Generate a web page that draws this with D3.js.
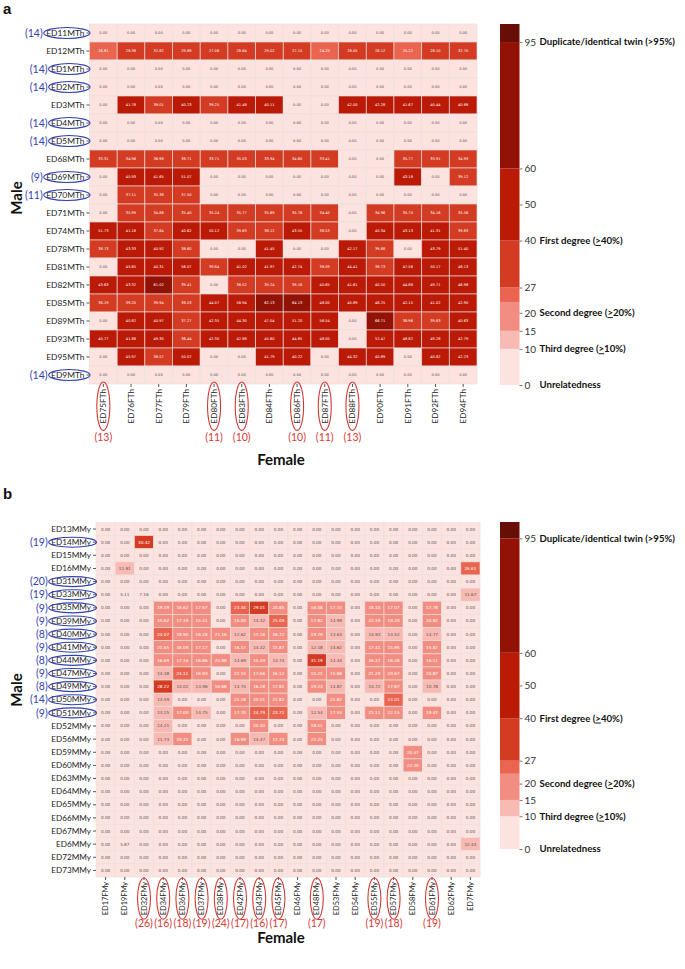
<!DOCTYPE html>
<html><head><meta charset="utf-8">
<script src="https://cdn.jsdelivr.net/npm/d3@7/dist/d3.min.js"></script>
<style>body{margin:0;background:#fff}</style>
</head><body>
<svg id="c" width="685" height="969" xmlns="http://www.w3.org/2000/svg"></svg>
<script>
// ---------- DATA: panel a ----------
const aRows = ["ED11MTh","ED12MTh","ED1MTh","ED2MTh","ED3MTh","ED4MTh","ED5MTh","ED68MTh","ED69MTh","ED70MTh","ED71MTh","ED74MTh","ED78MTh","ED81MTh","ED82MTh","ED85MTh","ED89MTh","ED93MTh","ED95MTh","ED9MTh"];
const aCols = ["ED75FTh","ED76FTh","ED77FTh","ED79FTh","ED80FTh","ED83FTh","ED84FTh","ED86FTh","ED87FTh","ED88FTh","ED90FTh","ED91FTh","ED92FTh","ED94FTh"];
const aValues = [
[0,0,0,0,0,0,0,0,0,0,0,0,0,0],
[26.81,28.38,32.82,29.89,27.06,28.64,29.02,27.15,24.20,28.05,28.12,25.22,28.10,32.70],
[0,0,0,0,0,0,0,0,0,0,0,0,0,0],
[0,0,0,0,0,0,0,0,0,0,0,0,0,0],
[0,41.78,39.01,40.23,39.25,41.48,40.11,0,0,42.00,42.28,41.67,40.44,40.88],
[0,0,0,0,0,0,0,0,0,0,0,0,0,0],
[0,0,0,0,0,0,0,0,0,0,0,0,0,0],
[33.31,34.96,36.98,38.71,33.71,35.03,33.94,34.60,33.41,0,0,35.77,33.91,34.93],
[0,45.93,41.65,51.07,0,0,0,0,0,0,0,43.18,0,39.12],
[0,37.11,35.38,37.50,0,0,0,0,0,0,0,0,0,0],
[0,35.99,34.86,35.40,35.24,35.77,35.69,35.76,34.40,0,34.96,35.70,34.16,35.56],
[51.73,41.18,37.64,40.62,50.12,39.63,38.12,43.55,38.53,0,40.34,43.13,41.31,39.83],
[38.73,43.33,40.92,38.60,0,0,41.45,0,0,42.17,39.88,0,43.79,51.40],
[0,45.65,40.31,56.07,39.84,41.02,41.97,42.74,38.09,44.41,38.73,47.56,50.17,48.13],
[43.63,43.32,61.02,39.41,0,38.52,39.24,39.16,40.65,41.61,40.50,44.88,49.71,46.98],
[38.19,39.20,39.94,38.53,44.07,58.94,62.13,64.13,48.00,40.89,46.25,42.15,41.02,42.90],
[0,40.82,40.97,37.27,42.35,44.30,47.04,51.20,56.54,0,66.71,38.96,39.83,40.63],
[40.77,41.88,49.30,36.44,42.30,42.88,45.60,44.85,48.00,0,52.47,48.82,49.28,42.79],
[0,45.97,38.57,50.07,0,0,41.79,40.22,0,44.32,40.89,0,40.82,42.23],
[0,0,0,0,0,0,0,0,0,0,0,0,0,0]
];
const aRowNoteLabels = ["ED11MTh","ED1MTh","ED2MTh","ED4MTh","ED5MTh","ED69MTh","ED70MTh","ED9MTh"];
const aRowNoteCounts = [14,14,14,14,14,9,11,14];
const aColNoteLabels = ["ED75FTh","ED80FTh","ED83FTh","ED86FTh","ED87FTh","ED88FTh"];
const aColNoteCounts = [13,11,10,10,11,13];

// ---------- DATA: panel b ----------
const bRows = ["ED13MMy","ED14MMy","ED15MMy","ED16MMy","ED31MMy","ED33MMy","ED35MMy","ED39MMy","ED40MMy","ED41MMy","ED44MMy","ED47MMy","ED49MMy","ED50MMy","ED51MMy","ED52MMy","ED56MMy","ED59MMy","ED60MMy","ED63MMy","ED64MMy","ED65MMy","ED66MMy","ED67MMy","ED6MMy","ED72MMy","ED73MMy"];
const bCols = ["ED17FMy","ED19FMy","ED32FMy","ED34FMy","ED36FMy","ED37FMy","ED38FMy","ED42FMy","ED43FMy","ED45FMy","ED46FMy","ED48FMy","ED53FMy","ED54FMy","ED55FMy","ED57FMy","ED58FMy","ED61FMy","ED62FMy","ED7FMy"];
const bValues = [
[0,0,0,0,0,0,0,0,0,0,0,0,0,0,0,0,0,0,0,0],
[0,0,30.42,0,0,0,0,0,0,0,0,0,0,0,0,0,0,0,0,0],
[0,0,0,0,0,0,0,0,0,0,0,0,0,0,0,0,0,0,0,0],
[0,11.91,0,0,0,0,0,0,0,0,0,0,0,0,0,0,0,0,0,26.61],
[0,0,0,0,0,0,0,0,0,0,0,0,0,0,0,0,0,0,0,0],
[0,5.11,7.16,0,0,0,0,0,0,0,0,0,0,0,0,0,0,0,0,11.67],
[0,0,0,19.19,16.62,17.67,0,23.34,29.01,20.85,0,16.08,17.10,0,18.10,17.07,0,17.78,0,0],
[0,0,0,15.62,17.39,15.41,0,15.00,14.32,25.09,0,17.82,14.99,0,22.39,19.20,0,20.92,0,0],
[0,0,0,24.07,19.90,16.28,21.16,12.62,17.16,16.72,0,19.79,13.63,0,14.93,14.52,0,14.77,0,0],
[0,0,0,21.65,16.09,17.17,0,16.17,14.32,15.87,0,12.18,14.62,0,17.41,15.95,0,15.82,0,0],
[0,0,0,16.69,17.16,16.86,20.98,14.69,15.39,13.74,0,31.19,14.44,0,16.37,16.28,0,16.11,0,0],
[0,0,0,14.38,24.11,16.93,0,22.15,17.66,16.12,0,15.21,15.68,0,21.29,20.67,0,20.87,0,0],
[0,0,0,28.22,14.02,13.96,16.68,14.75,16.28,17.81,0,19.23,14.87,0,14.72,17.87,0,10.78,0,0],
[0,0,0,14.59,0,0,0,21.28,20.51,21.82,0,0,21.82,0,0,24.01,0,0,0,0],
[0,0,0,13.25,17.00,14.75,0,17.70,24.79,23.71,0,12.54,17.53,0,21.11,22.15,0,19.47,0,0],
[0,0,0,14.21,0,0,0,0,20.40,0,0,18.51,0,0,0,0,0,0,0,0],
[0,0,0,11.73,19.32,0,0,16.99,14.47,17.74,0,22.24,0,0,0,0,0,0,0,0],
[0,0,0,0,0,0,0,0,0,0,0,0,0,0,0,0,20.47,0,0,0],
[0,0,0,0,0,0,0,0,0,0,0,0,0,0,0,0,22.30,0,0,0],
[0,0,0,0,0,0,0,0,0,0,0,0,0,0,0,0,0,0,0,0],
[0,0,0,0,0,0,0,0,0,0,0,0,0,0,0,0,0,0,0,0],
[0,0,0,0,0,0,0,0,0,0,0,0,0,0,0,0,0,0,0,0],
[0,0,0,0,0,0,0,0,0,0,0,0,0,0,0,0,0,0,0,0],
[0,0,0,0,0,0,0,0,0,0,0,0,0,0,0,0,0,0,0,0],
[0,5.87,0,0,0,0,0,0,0,0,0,0,0,0,0,0,0,0,0,12.44],
[0,0,0,0,0,0,0,0,0,0,0,0,0,0,0,0,0,0,0,0],
[0,0,0,0,0,0,0,0,0,0,0,0,0,0,0,0,0,0,0,0]
];
const bRowNoteLabels = ["ED14MMy","ED31MMy","ED33MMy","ED35MMy","ED39MMy","ED40MMy","ED41MMy","ED44MMy","ED47MMy","ED49MMy","ED50MMy","ED51MMy"];
const bRowNoteCounts = [19,20,19,9,9,8,9,8,9,8,14,9];
const bColNoteLabels = ["ED32FMy","ED34FMy","ED36FMy","ED37FMy","ED38FMy","ED42FMy","ED43FMy","ED45FMy","ED48FMy","ED55FMy","ED57FMy","ED61FMy"];
const bColNoteCounts = [26,16,18,19,24,17,16,17,17,19,18,19];

// ---------- colour scale / legend ----------
const bandBreaks = [0,10,15,23,27,40,60,95,100];
const bandColors = ["#fde3df","#f8bab2","#f28e81","#e96550","#d33b22","#bb1a07","#921306","#670e07"];
const cbTicks = [0,10,15,20,27,40,50,60,95];
const cbNoteValues = [95,40,20,10,0];
const cbNoteTexts = [["Duplicate/identical twin (",">","95%)",false],["First degree (",">","40%)",true],["Second degree (",">","20%)",true],["Third degree (",">","10%)",true],["Unrelatedness","","",false]];

const color = d3.scaleThreshold().domain(bandBreaks.slice(1,-1)).range(bandColors);
const svg = d3.select("#c");
const BLUE = "#3340b0", RED = "#d23a36";

function drawPanel(o){
  const g = svg.append("g");
  const x = d3.scaleBand().domain(o.cols).range([o.gx0,o.gx1]);
  const y = d3.scaleBand().domain(o.rows).range([o.gy0,o.gy1]);
  const cells = [];
  o.rows.forEach((r,i)=>o.cols.forEach((c,j)=>cells.push({r,c,v:o.values[i][j]})));
  g.selectAll("rect.cell").data(cells).join("rect").attr("class","cell")
    .attr("x",d=>x(d.c)).attr("y",d=>y(d.r))
    .attr("width",x.bandwidth()).attr("height",y.bandwidth())
    .attr("fill",d=>color(d.v))
    .attr("stroke","rgba(236,222,222,0.8)").attr("stroke-width",0.8);
  g.selectAll("text.val").data(cells).join("text").attr("class","val")
    .attr("x",d=>x(d.c)+x.bandwidth()/2).attr("y",d=>y(d.r)+y.bandwidth()/2)
    .attr("dy","0.35em").attr("text-anchor","middle")
    .attr("font-family","DejaVu Sans").attr("font-size",o.cellFont)
    .attr("fill",d=>d.v>=15?"#ffffff":"#555555")
    .text(d=>d.v.toFixed(2));

  // y axis
  const ya = g.append("g").attr("transform",`translate(${o.gx0},0)`)
    .call(d3.axisLeft(y).tickSize(3).tickPadding(2));
  ya.select(".domain").remove();
  ya.selectAll("line").attr("stroke","#555");
  ya.selectAll("text").attr("font-family","Lato").attr("font-size",o.rowFont).attr("fill","#222");
  // x axis
  const xa = g.append("g").attr("transform",`translate(0,${o.gy1})`)
    .call(d3.axisBottom(x).tickSize(3).tickPadding(2));
  xa.select(".domain").remove();
  xa.selectAll("line").attr("stroke","#555");
  xa.selectAll("text").attr("font-family","Lato").attr("font-size",o.colFont).attr("fill","#222")
    .attr("transform","rotate(-90)").attr("text-anchor","end")
    .attr("x",-5).attr("y",0).attr("dy","0.35em");

  // row annotations
  const rowLen = {};
  ya.selectAll(".tick").each(function(d){ rowLen[d]=d3.select(this).select("text").node().getComputedTextLength(); });
  o.rowNoteLabels.forEach((lab,i)=>{
    const len = rowLen[lab];
    const cy = y(lab)+y.bandwidth()/2;
    const cx = o.gx0-5-len/2+1.5;
    const rx = len/2+4;
    g.append("ellipse").attr("cx",cx).attr("cy",cy).attr("rx",rx).attr("ry",o.rowRy)
      .attr("fill","none").attr("stroke",BLUE).attr("stroke-width",1.1);
    g.append("text").attr("x",cx-rx-1).attr("y",cy).attr("dy","0.35em").attr("text-anchor","end")
      .attr("font-family","Lato").attr("font-size",10.5).attr("fill",BLUE).text(`(${o.rowNoteCounts[i]})`);
  });
  // column annotations
  const colLen = {};
  xa.selectAll(".tick").each(function(d){ colLen[d]=d3.select(this).select("text").node().getComputedTextLength(); });
  o.colNoteLabels.forEach((lab,i)=>{
    const len = colLen[lab];
    const cx = x(lab)+x.bandwidth()/2;
    const cy = o.gy1+5+len/2;
    const ry = len/2+o.colPad;
    g.append("ellipse").attr("cx",cx).attr("cy",cy).attr("rx",6.5).attr("ry",ry)
      .attr("fill","none").attr("stroke",RED).attr("stroke-width",1.1);
    g.append("text").attr("x",cx).attr("y",cy+ry+o.numGap).attr("text-anchor","middle")
      .attr("font-family","Lato").attr("font-size",10.5).attr("fill",RED).text(`(${o.colNoteCounts[i]})`);
  });

  // axis titles
  g.append("text").attr("x",o.femaleX).attr("y",o.femaleY).attr("text-anchor","middle")
    .attr("font-family","Lato").attr("font-weight","bold").attr("font-size",15).attr("fill","#111").text("Female");
  g.append("text").attr("transform",`translate(${o.maleX},${o.maleY}) rotate(-90)`).attr("text-anchor","middle")
    .attr("font-family","Lato").attr("font-weight","bold").attr("font-size",15).attr("fill","#111").text("Male");
  g.append("text").attr("x",3).attr("y",o.letterY).attr("font-family","Liberation Sans").attr("font-weight","bold")
    .attr("font-size",15).attr("fill","#111").text(o.letter);

  // colour bar
  const cb = d3.scaleLinear().domain([0,100]).range([o.cbBottom,o.cbTop]);
  const bands = bandColors.map((c,i)=>({lo:bandBreaks[i],hi:bandBreaks[i+1],c}));
  g.selectAll("rect.band").data(bands).join("rect").attr("class","band")
    .attr("x",o.cbX).attr("width",o.cbW).attr("y",d=>cb(d.hi)).attr("height",d=>cb(d.lo)-cb(d.hi))
    .attr("fill",d=>d.c);
  const ca = g.append("g").attr("transform",`translate(${o.cbX+o.cbW},0)`)
    .call(d3.axisRight(cb).tickValues(cbTicks).tickSize(3).tickPadding(2).tickFormat(d3.format("d")));
  ca.select(".domain").remove();
  ca.selectAll("line").attr("stroke","#777");
  ca.selectAll("text").attr("font-family","Lato").attr("font-size",10).attr("fill","#333");
  cbNoteValues.forEach((v,i)=>{
    const [a,b,c,ul] = cbNoteTexts[i];
    const t = g.append("text").attr("x",o.cbX+o.cbW+20).attr("y",cb(v)).attr("dy","0.35em")
      .attr("font-family","Lato").attr("font-weight","bold").attr("font-size",9.6).attr("fill","#111");
    t.append("tspan").text(a);
    if(b) t.append("tspan").attr("text-decoration",ul?"underline":null).text(b);
    if(c) t.append("tspan").text(c);
  });
}

drawPanel({rows:aRows,cols:aCols,values:aValues,
  rowNoteLabels:aRowNoteLabels,rowNoteCounts:aRowNoteCounts,
  colNoteLabels:aColNoteLabels,colNoteCounts:aColNoteCounts,
  gx0:89.5,gx1:477,gy0:24,gy1:384,cellFont:3.6,rowFont:8.4,colFont:8.2,rowRy:5.5,colPad:7,numGap:11,
  femaleX:281,femaleY:465,maleX:22,maleY:198,letter:"a",letterY:14,
  cbX:500,cbW:19.5,cbTop:24,cbBottom:385});

drawPanel({rows:bRows,cols:bCols,values:bValues,
  rowNoteLabels:bRowNoteLabels,rowNoteCounts:bRowNoteCounts,
  colNoteLabels:bColNoteLabels,colNoteCounts:bColNoteCounts,
  gx0:96,gx1:480,gy0:522.5,gy1:877,cellFont:4.2,rowFont:8.2,colFont:7.4,rowRy:5,colPad:4,numGap:8,
  femaleX:281,femaleY:943,maleX:22,maleY:690,letter:"b",letterY:499,
  cbX:500,cbW:19.5,cbTop:522,cbBottom:849});
</script>
</body></html>
